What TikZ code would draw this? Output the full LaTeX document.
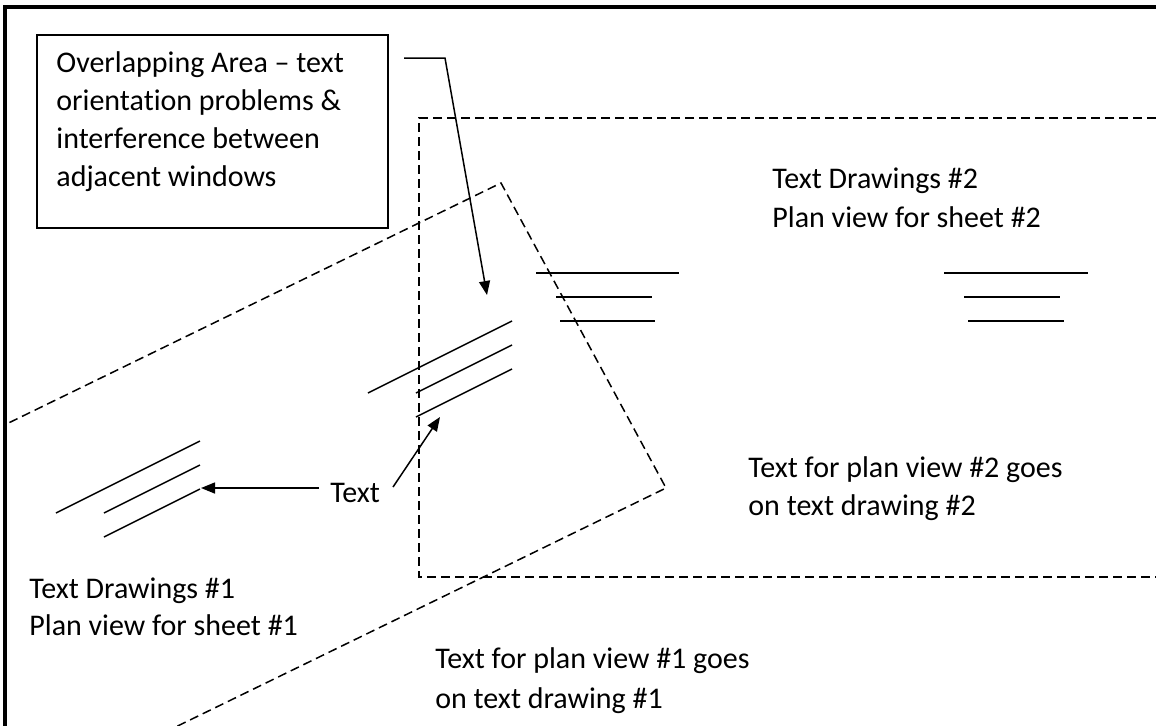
\documentclass[tikz,border=0pt]{standalone}
\usepackage{fontspec}
\setmainfont[Ligatures=NoCommon]{Carlito}
\usetikzlibrary{arrows.meta}
\begin{document}
\begin{tikzpicture}[x=0.5pt,y=-0.5pt,
  thin line/.style={line width=0.75pt},
  win/.style={line width=0.75pt, dash pattern=on 4.5pt off 2.5pt},
  arr/.style={line width=0.75pt,-{Triangle[length=7pt,width=5.5pt]}},
  lbl/.style={anchor=base west, inner sep=0pt, font=\fontsize{15pt}{19pt}\selectfont},
  every node/.style={text=black}]
\useasboundingbox[fill=white] (0,0) rectangle (1156,725);
\clip (0,0) rectangle (1156,725);
% outer frame (top and left edges visible)
\draw[line width=2pt] (5,740) -- (5,7) -- (1170,7);
% windows
\begin{scope}
\clip (6,8) rectangle (1156,725);
\draw[win] (1170,118) -- (419,118) -- (419,577) -- (1170,577);
\draw[win] (-129,490) -- (501,183) -- (666,488) -- (36,795);
\end{scope}
% text line groups
\draw[thin line] (56,513) -- (200,441);
\draw[thin line] (104,513) -- (200,465);
\draw[thin line] (104,537) -- coordinate[pos=1] (t1) (200,489);
\draw[thin line] (368,393) -- coordinate[pos=0] (m1) (512,321);
\draw[thin line] (416,393) -- (512,345);
\draw[thin line] (416,417) -- coordinate[pos=0] (m3) (512,369);
\draw[thin line] (536,273) -- (679,273);
\draw[thin line] (556,297) -- (652,297);
\draw[thin line] (560,321) -- (655,321);
\draw[thin line] (944,273) -- (1088,273);
\draw[thin line] (964,297) -- (1060,297);
\draw[thin line] (968,321) -- (1064,321);
% callout
\node[draw, thin line, anchor=north west, minimum width=175.5pt, minimum height=96.5pt, inner sep=0pt] (callout) at (36,34) {};
\node[lbl, align=left, anchor=north west] (calltext) at (56,51) {Overlapping Area – text\\orientation problems \&\\interference between\\adjacent windows};
\coordinate (lead0) at (404,58);
\coordinate (lead1) at (445,58);
\coordinate (leadtip) at (487,295);
\draw[arr] (lead0) -- (lead1) -- (leadtip);
% Text label and arrows
\node[lbl] (textlbl) at (330,502) {Text};
\coordinate (tl0) at (319,488);
\coordinate (tl1) at (393,487);
\coordinate (tip2) at (440,417);
\draw[arr] (tl0) -- (201,488);
\draw[arr] (tl1) -- (tip2);
% labels
\node[lbl] (td2a) at (772,188) {Text Drawings \#2};
\node[lbl] (td2b) at (772,227) {Plan view for sheet \#2};
\node[lbl] (tp2a) at (748,477) {Text for plan view \#2 goes};
\node[lbl] (tp2b) at (748,515) {on text drawing \#2};
\node[lbl] (td1a) at (29,598) {Text Drawings \#1};
\node[lbl] (td1b) at (29,635) {Plan view for sheet \#1};
\node[lbl] (tp1a) at (435,668) {Text for plan view \#1 goes};
\node[lbl] (tp1b) at (435,708) {on text drawing \#1};
\end{tikzpicture}
\end{document}
